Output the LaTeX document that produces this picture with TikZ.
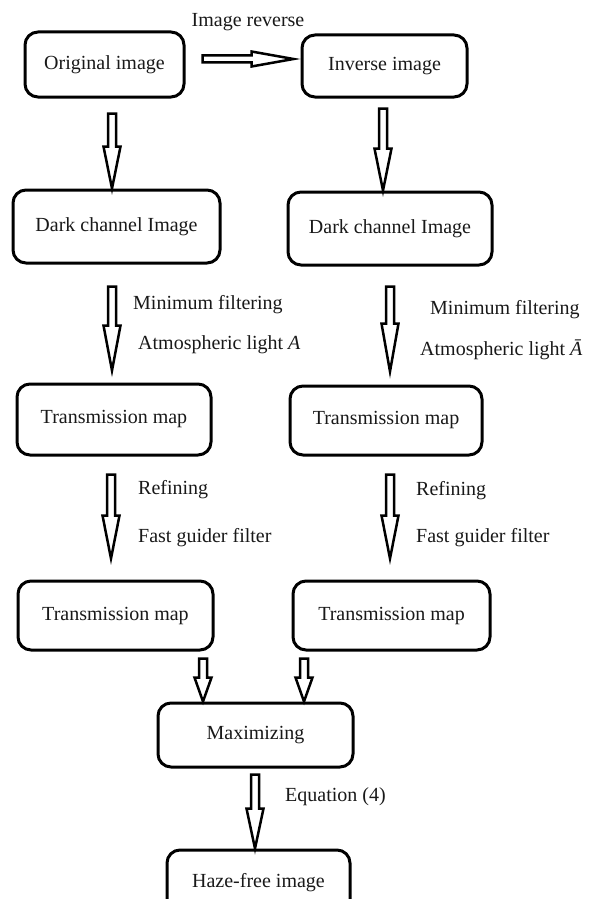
\documentclass[tikz,border=0pt]{standalone}
\usepackage{fontspec}
\setmainfont{Liberation Serif}
\usetikzlibrary{calc}
\tikzset{
  box/.style={draw, line width=3pt, rounded corners=13pt, inner sep=0pt, align=center,
    font=\fontsize{20}{24}\selectfont, text=black!90},
  lbl/.style={anchor=west, inner sep=0pt, font=\fontsize{20}{24}\selectfont, text=black!90},
  hollow/.style={draw, line width=2.5pt, fill=white, line join=miter}
}
% vertical hollow arrow: x, from node, to node, start gap, tip gap, head length
\newcommand\varrow[6]{%
  \draw[hollow] let \p1=(#2.south), \p2=(#3.north) in
    (#1pt-4pt,\y1-#4pt) -- (#1pt+4pt,\y1-#4pt) -- (#1pt+4pt,\y2+#5pt+#6pt)
    -- (#1pt+8.5pt,\y2+#5pt+#6pt) -- (#1pt,\y2+#5pt) -- (#1pt-8.5pt,\y2+#5pt+#6pt)
    -- (#1pt-4pt,\y2+#5pt+#6pt) -- cycle;}
% horizontal hollow arrow: from node, to node, y, start gap, tip gap, head length
\newcommand\harrow[6]{%
  \draw[hollow] let \p1=(#1.east), \p2=(#2.west) in
    (\x1+#4pt,-#3pt+3.5pt) -- (\x2-#5pt-#6pt,-#3pt+3.5pt) -- (\x2-#5pt-#6pt,-#3pt+7.5pt)
    -- (\x2-#5pt,-#3pt) -- (\x2-#5pt-#6pt,-#3pt-7.5pt) -- (\x2-#5pt-#6pt,-#3pt-3.5pt)
    -- (\x1+#4pt,-#3pt-3.5pt) -- cycle;}
\begin{document}
\begin{tikzpicture}[x=1pt,y=-1pt]
\useasboundingbox (0,0) rectangle (598,899);
\clip (0,0) rectangle (598,899);
\fill[white] (0,0) rectangle (598,899);

% boxes
\node[box, minimum width=159pt, minimum height=65pt] (orig) at (104.5,64.5) {Original image};
\node[box, minimum width=165pt, minimum height=62pt] (inv)  at (384.5,66) {Inverse image};
\node[box, minimum width=207pt, minimum height=73pt] (dcl)  at (116.5,226.5) {Dark channel Image};
\node[box, minimum width=204pt, minimum height=73pt] (dcr)  at (390,228.5) {Dark channel Image};
\node[box, minimum width=194pt, minimum height=71pt] (tl1)  at (114,419.5) {Transmission map};
\node[box, minimum width=192pt, minimum height=69pt] (tr1)  at (386,420.5) {Transmission map};
\node[box, minimum width=195pt, minimum height=69pt] (tl2)  at (115.5,615.5) {Transmission map};
\node[box, minimum width=197pt, minimum height=69pt] (tr2)  at (391.5,615.5) {Transmission map};
\node[box, minimum width=195pt, minimum height=64pt] (max)  at (255.5,735) {Maximizing};
\node[box, minimum width=183pt, minimum height=65pt] (haze) at (258.5,882.5) {Haze-free image};

% labels
\node[lbl, anchor=center] (rev) at (248,22) {Image reverse};
\node[lbl] (l1) at (133,305) {Minimum filtering};
\node[lbl] (l2) at (138,345) {Atmospheric light \textit{A}};
\node[lbl] (r1) at (430,310) {Minimum filtering};
\node[lbl] (r2) at (420,350) {Atmospheric light \textit{Ā}};
\node[lbl] (l3) at (138,490) {Refining};
\node[lbl] (l4) at (138,538) {Fast guider filter};
\node[lbl] (r3) at (416,491) {Refining};
\node[lbl] (r4) at (416,538) {Fast guider filter};
\node[lbl] (eq) at (285,797) {Equation (4)};

% arrows
\harrow{orig}{inv}{59}{17}{7}{42}
\varrow{112}{orig}{dcl}{15}{0}{42}
\varrow{383}{inv}{dcr}{10}{0}{42}
\varrow{112}{dcl}{tl1}{22}{12}{45}
\varrow{390}{dcr}{tr1}{20}{13}{48}
\varrow{111}{tl1}{tl2}{18}{21}{43}
\varrow{390}{tr1}{tr2}{18}{21}{43}
\varrow{203}{tl2}{max}{7}{0}{24}
\varrow{304}{tr2}{max}{7}{0}{24}
\varrow{255}{max}{haze}{6}{0}{40}
\end{tikzpicture}
\end{document}
